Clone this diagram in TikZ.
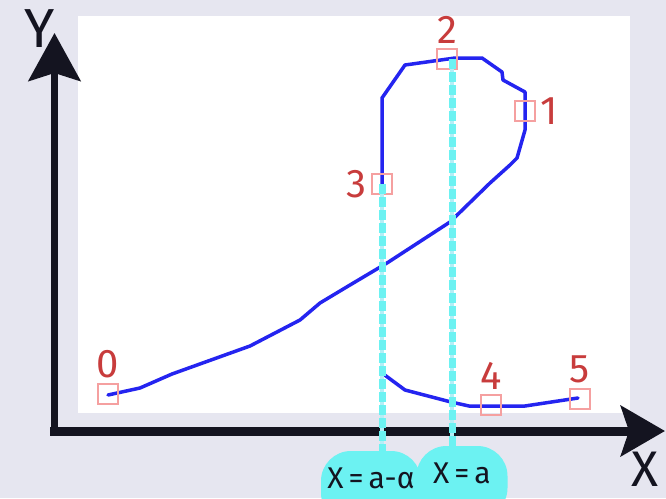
\documentclass[tikz,border=0pt]{standalone}
\usepackage{fontspec}
\setmainfont{Fira Sans}
\usetikzlibrary{arrows.meta,positioning}
\definecolor{bgpane}{HTML}{E6E6F0}
\definecolor{curveblue}{HTML}{2424F0}
\definecolor{marker}{HTML}{F5A0A0}
\definecolor{markred}{HTML}{C83C3C}
\definecolor{guidecyan}{HTML}{6CF2F2}
\definecolor{guidelight}{HTML}{B4EEF6}
\definecolor{axisink}{HTML}{141420}

\tikzset{
  ptbox/.style={draw=marker,line width=1.5pt,minimum size=20pt,inner sep=0pt},
  ptlabel/.style={text=markred,font=\fontsize{40}{40}\selectfont,inner sep=2pt},
  curve/.style={draw=curveblue,line width=3.5pt,line join=round,line cap=round},
  guide/.style={draw=guidecyan,line width=7pt,dash pattern=on 10pt off 3pt,
    preaction={draw=guidelight,line width=4pt,solid}},
  bubble/.style={fill=guidecyan,rounded corners=30pt,text=axisink,
    font=\fontsize{30}{30}\selectfont,text height=32pt,text depth=30pt,
    inner ysep=5pt,inner xsep=0pt},
  axislabel/.style={text=axisink,inner sep=0pt}
}

\begin{document}
\begin{tikzpicture}[x=1pt,y=-1pt,every label/.style={ptlabel},label distance=3pt]
  \useasboundingbox (0,0) rectangle (666,498);
  \clip (0,0) rectangle (666,498);
  \fill[bgpane] (0,0) rectangle (666,498);
  \fill[white] (78,16) rectangle (630,413);

  % axes
  \draw[axisink,line width=7pt,-{Stealth[length=48pt,width=52pt,inset=8pt]}] (54.5,436) -- (54.5,33);
  \draw[axisink,line width=9pt,-{Stealth[length=44pt,width=50pt,inset=8pt]}] (50,431) -- (665,431);
  \node[axislabel,font=\fontsize{55}{55}\selectfont] (ylab) at (40,29) {Y};
  \node[axislabel,font=\fontsize{50}{50}\selectfont] (xlab) at (645,469) {X};

  % the curve
  \draw[curve] (108,395) -- (140,388) -- (172,374) -- (250,346) -- (300,320) -- (320,303)
    -- (350,285) -- (387,263) -- (450,222) -- (490,183) -- (510,165) -- (517,158)
    -- (525,130) -- (525,92) -- (503,80) -- (502,72) -- (482,58) -- (455,58)
    -- (405,65) -- (382,98) -- (382,373) -- (405,390) -- (451,402) -- (469,406)
    -- (525,406) -- (578,398);

  % sample points
  \foreach \n/\x/\y/\s in {0/108/394/above, 1/525/111/right, 2/447/59/above,
                          3/382/184/left, 4/491/405/above, 5/580/399/above}{
    \node[ptbox,label={\s:\n}] (p\n) at (\x,\y) {};
  }

  % guides down to the axis
  \node[bubble,minimum width=100pt,anchor=base] (b1) at (371,488) {X\,=\,a-α};
  \node[bubble,minimum width=91pt,anchor=base] (b2) at (462,483) {X\,=\,a};
  \draw[guide] (p3.center) -- (p3.center |- b1.north);
  \draw[guide] ([xshift=5pt]p2.center) -- ([xshift=5pt]p2.center |- b2.north);
\end{tikzpicture}
\end{document}
